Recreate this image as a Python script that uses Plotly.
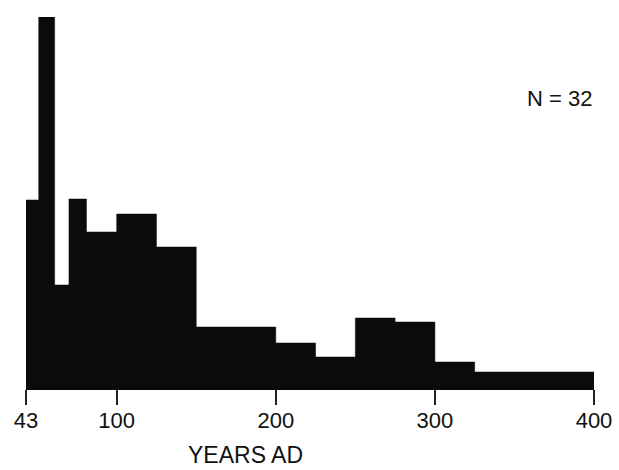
import plotly.graph_objects as go

# bin edges (years AD) and bar heights (relative frequency per year)
edges = [43, 51, 61, 70, 81, 100, 125, 150, 200, 225, 250, 275, 300, 325, 400]
heights = [188, 371, 103, 189, 156, 174, 141, 61, 45, 31, 70, 66, 26, 16]
tick_vals = [43, 100, 200, 300, 400]
n_sites = 32

fig = go.Figure()
# stepped outline filled down to zero -> histogram without seams between bins
fig.add_trace(go.Scatter(
    x=edges, y=heights + heights[-1:],
    mode="lines", line=dict(shape="hv", width=0.5, color="#0b0b0b"),
    fill="tozeroy", fillcolor="#0b0b0b",
    hoverinfo="skip",
))

fig.update_layout(
    width=619, height=470,
    margin=dict(l=26, r=25, t=17, b=82, autoexpand=False),
    paper_bgcolor="white", plot_bgcolor="white",
    showlegend=False,
    font=dict(family="Liberation Sans, Arial", color="#111111", size=22),
    xaxis=dict(
        range=[edges[0], edges[-1]],
        tickvals=tick_vals,
        ticktext=[str(v) for v in tick_vals],
        ticks="outside", ticklen=15, tickwidth=2, tickcolor="#222222",
        ticklabelstandoff=-3,
        showline=True, linecolor="#0b0b0b", linewidth=2,
        showgrid=False, zeroline=False, automargin=False,
        tickfont=dict(size=22),
    ),
    yaxis=dict(range=[0, max(heights)], visible=False),
)

fig.add_annotation(text="YEARS AD", xref="x", x=181, yref="paper", y=-0.221,
                   showarrow=False, font=dict(size=23), yanchor="bottom")
fig.add_annotation(text=f"N = {n_sites}", xref="x", x=400, xanchor="right",
                   yref="paper", y=0.78, yanchor="middle",
                   showarrow=False, font=dict(size=22))

# page body has an 8px default margin; drop it so the figure fills the window
fig.write_html("out.html", config={"displayModeBar": False},
               post_script="document.body.style.margin='0';")
